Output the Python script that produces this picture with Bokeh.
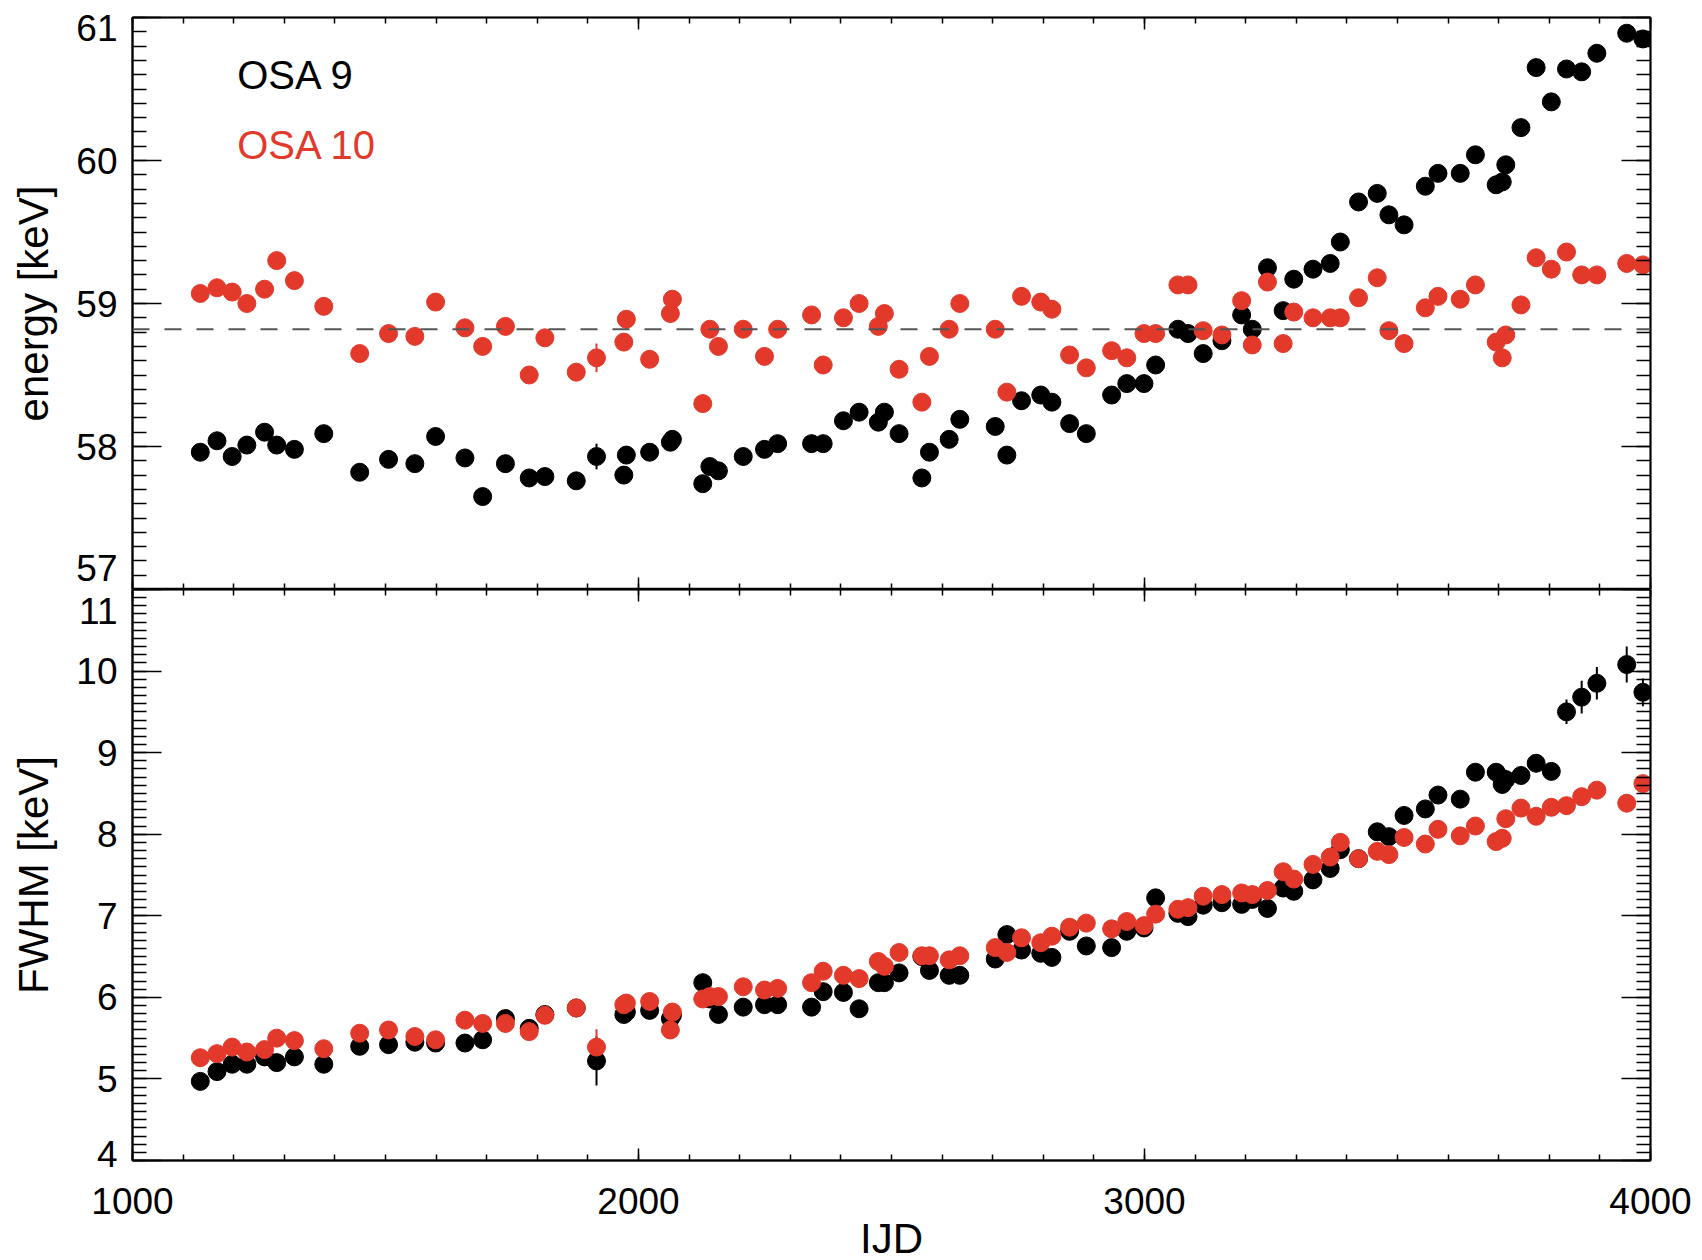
import numpy as np
from bokeh.plotting import figure
from bokeh.layouts import column
from bokeh.models import LinearAxis, FixedTicker, Range1d, Label, Span
from bokeh.embed import file_html
from bokeh.resources import INLINE

# ---------------- data ----------------
ijd = [1134, 1167, 1197, 1226, 1261, 1285, 1320, 1378, 1449, 1506,
       1558, 1599, 1657, 1692, 1737, 1784, 1815, 1877, 1917, 1971,
       1976, 2022, 2063, 2067, 2127, 2141, 2158, 2207, 2249, 2275,
       2342, 2365, 2405, 2436, 2474, 2486, 2515, 2560, 2575, 2614,
       2635, 2705, 2728, 2757, 2795, 2817, 2852, 2885, 2935, 2965,
       2999, 3022, 3066, 3086, 3116, 3153, 3192, 3213, 3243, 3274,
       3295, 3333, 3367, 3387, 3423, 3460, 3483, 3513, 3555, 3580,
       3624, 3654, 3695, 3707, 3714, 3744, 3774, 3804, 3834, 3864,
       3894, 3953, 3985]

energy_osa9 = [57.96, 58.04, 57.93, 58.01, 58.10, 58.01, 57.98, 58.09, 57.82, 57.91,
               57.88, 58.07, 57.92, 57.65, 57.88, 57.78, 57.79, 57.76, 57.93, 57.80,
               57.94, 57.96, 58.03, 58.05, 57.74, 57.86, 57.83, 57.93, 57.98, 58.02,
               58.02, 58.02, 58.18, 58.24, 58.17, 58.24, 58.09, 57.78, 57.96, 58.05,
               58.19, 58.14, 57.94, 58.32, 58.36, 58.31, 58.16, 58.09, 58.36, 58.44,
               58.44, 58.57, 58.82, 58.79, 58.65, 58.74, 58.92, 58.82, 59.25, 58.95,
               59.17, 59.24, 59.28, 59.43, 59.71, 59.77, 59.62, 59.55, 59.82, 59.91,
               59.91, 60.04, 59.83, 59.85, 59.97, 60.23, 60.65, 60.41, 60.64, 60.62,
               60.75, 60.89, 60.85]

energy_osa10 = [59.07, 59.11, 59.08, 59.00, 59.10, 59.30, 59.16, 58.98, 58.65, 58.79,
                58.77, 59.01, 58.83, 58.70, 58.84, 58.50, 58.76, 58.52, 58.62, 58.73,
                58.89, 58.61, 58.93, 59.03, 58.30, 58.82, 58.70, 58.82, 58.63, 58.82,
                58.92, 58.57, 58.90, 59.00, 58.84, 58.93, 58.54, 58.31, 58.63, 58.82,
                59.00, 58.82, 58.38, 59.05, 59.01, 58.96, 58.64, 58.55, 58.67, 58.62,
                58.79, 58.79, 59.13, 59.13, 58.81, 58.78, 59.02, 58.71, 59.15, 58.72,
                58.94, 58.90, 58.90, 58.90, 59.04, 59.18, 58.81, 58.72, 58.97, 59.05,
                59.03, 59.13, 58.73, 58.62, 58.78, 58.99, 59.32, 59.24, 59.36, 59.20,
                59.20, 59.28, 59.27]

fwhm_osa9 = [4.97, 5.09, 5.18, 5.18, 5.27, 5.20, 5.27, 5.18, 5.40, 5.42,
             5.45, 5.44, 5.44, 5.48, 5.74, 5.62, 5.79, 5.87, 5.22, 5.79,
             5.82, 5.84, 5.74, 5.78, 6.18, 5.98, 5.79, 5.88, 5.91, 5.91,
             5.88, 6.07, 6.06, 5.86, 6.18, 6.18, 6.30, 6.50, 6.33, 6.27,
             6.27, 6.47, 6.77, 6.58, 6.54, 6.49, 6.81, 6.63, 6.61, 6.81,
             6.85, 7.22, 7.03, 6.99, 7.13, 7.16, 7.14, 7.20, 7.09, 7.34,
             7.30, 7.44, 7.58, 7.81, 7.70, 8.03, 7.97, 8.23, 8.31, 8.48,
             8.43, 8.76, 8.76, 8.61, 8.67, 8.72, 8.87, 8.77, 9.50, 9.68,
             9.85, 10.08, 9.74]

fwhm_osa10 = [5.26, 5.31, 5.39, 5.33, 5.36, 5.50, 5.47, 5.37, 5.56, 5.60,
              5.52, 5.48, 5.72, 5.68, 5.68, 5.58, 5.78, 5.87, 5.39, 5.91,
              5.93, 5.95, 5.60, 5.82, 5.98, 6.01, 6.01, 6.13, 6.09, 6.11,
              6.18, 6.32, 6.27, 6.23, 6.44, 6.38, 6.55, 6.51, 6.51, 6.46,
              6.51, 6.61, 6.55, 6.73, 6.67, 6.75, 6.86, 6.91, 6.84, 6.93,
              6.88, 7.02, 7.08, 7.10, 7.24, 7.26, 7.28, 7.26, 7.31, 7.54,
              7.45, 7.63, 7.72, 7.90, 7.70, 7.79, 7.75, 7.96, 7.88, 8.06,
              7.98, 8.10, 7.91, 7.95, 8.19, 8.32, 8.22, 8.33, 8.35, 8.46,
              8.54, 8.38, 8.62]

# visible error bars (index into ijd, half-length)
energy9_err_idx = [18]
energy9_err = [0.09]
energy10_err_idx = [18]
energy10_err = [0.10]
fwhm9_err_idx = [18, 65, 74, 76, 78, 79, 80, 81, 82]
fwhm9_err = [0.30, 0.10, 0.12, 0.10, 0.15, 0.20, 0.20, 0.22, 0.17]
fwhm10_err_idx = [18, 22, 80]
fwhm10_err = [0.22, 0.10, 0.08]

energy_ref = 58.82          # dashed reference line
x_ticks = [1000, 2000, 3000, 4000]
energy_ticks = [57, 58, 59, 60, 61]
fwhm_ticks = [4, 5, 6, 7, 8, 9, 10, 11]
# tick-label texts and where they sit (the end labels are nudged inside the panel)
energy_labels = ["57", "58", "59", "60", "61"]
energy_label_pos = [57.15, 58, 59, 60, 60.927]
fwhm_labels = ["4", "5", "6", "7", "8", "9", "10", "11"]
fwhm_label_pos = [4.08, 5, 6, 7, 8, 9, 10, 10.74]
series_names = ["OSA 9", "OSA 10"]

# ---------------- style ----------------
FONT = "Liberation Sans"
RED = "#E2392B"
BLACK = "#000000"
TICK_FS = "37px"
TITLE_FS = "42px"
MSIZE = 18
FRAME_W = 1518
LEFT_B = 132
RIGHT_B = 52

x_range = Range1d(1000, 4000)
x_minor = list(np.arange(1000, 4001, 100))
e_minor = list(np.round(np.arange(57, 61.001, 0.1), 2))
f_minor = list(np.round(np.arange(4, 11.001, 0.1), 2))


def base_axis(ax):
    ax.axis_line_color = "black"
    ax.axis_line_width = 1.5
    ax.major_tick_line_color = "black"
    ax.major_tick_line_width = 1.5
    ax.minor_tick_line_color = "black"
    ax.minor_tick_line_width = 1.5
    ax.major_tick_out = 0
    ax.minor_tick_out = 0
    ax.axis_label_text_font_style = "normal"
    ax.axis_label_text_font = FONT
    ax.axis_label_text_font_size = TITLE_FS
    ax.axis_label_text_color = "black"
    ax.major_label_text_font = FONT
    ax.major_label_text_font_size = TICK_FS
    ax.major_label_text_color = "black"


def tick_only_axes(p, side, ticks, minor, major_in, minor_in):
    # tick marks without labels: one label-free axis for long and one for short ticks
    for pos, length in [(minor, minor_in), (ticks, major_in)]:
        ax = LinearAxis(ticker=FixedTicker(ticks=[], minor_ticks=pos))
        base_axis(ax)
        ax.major_tick_in = 0
        ax.minor_tick_in = length
        ax.major_label_standoff = 0
        p.add_layout(ax, side)


def label_axis(p, side, pos, texts, title, standoff, title_standoff):
    # labels only (tick marks come from tick_only_axes)
    ax = LinearAxis(ticker=FixedTicker(ticks=pos, minor_ticks=[]), axis_label=title)
    base_axis(ax)
    ax.major_tick_in = 0
    ax.minor_tick_in = 0
    ax.major_label_standoff = standoff
    ax.axis_label_standoff = title_standoff
    ax.major_label_overrides = {p_: t for p_, t in zip(pos, texts)}
    p.add_layout(ax, side)


def make_fig(y_lo, y_hi, frame_h, top_border, bottom_border):
    p = figure(frame_width=FRAME_W, frame_height=frame_h, x_range=x_range,
               y_range=Range1d(y_lo, y_hi), output_backend="svg",
               toolbar_location=None, min_border_left=LEFT_B, min_border_right=RIGHT_B,
               min_border_top=top_border, min_border_bottom=bottom_border,
               x_axis_location=None, y_axis_location=None)
    p.xgrid.visible = False
    p.ygrid.visible = False
    p.outline_line_color = "black"
    p.outline_line_width = 1.5
    p.background_fill_color = "white"
    p.border_fill_color = "white"
    return p


# ---------------- top panel: energy ----------------
p1 = make_fig(57, 61, 572, 17, 0)
tick_only_axes(p1, "left", energy_ticks, e_minor, 29, 14)
label_axis(p1, "left", energy_label_pos, energy_labels, "energy [keV]", 15, 16)
tick_only_axes(p1, "right", energy_ticks, e_minor, 29, 14)
tick_only_axes(p1, "above", x_ticks, x_minor, 12, 6)
tick_only_axes(p1, "below", x_ticks, x_minor, 12, 6)

p1.add_layout(Span(location=energy_ref, dimension="width", line_color="#555555",
                   line_width=2, line_dash="17 15"))

for idx, err, yv, col in [(energy9_err_idx, energy9_err, energy_osa9, BLACK),
                          (energy10_err_idx, energy10_err, energy_osa10, RED)]:
    xs = [ijd[i] for i in idx]
    p1.segment(x0=xs, x1=xs, y0=[yv[i] - e for i, e in zip(idx, err)],
               y1=[yv[i] + e for i, e in zip(idx, err)], line_color=col, line_width=2)

p1.scatter(ijd, energy_osa9, size=MSIZE, marker="circle", fill_color=BLACK, line_color=BLACK)
p1.scatter(ijd, energy_osa10, size=MSIZE, marker="circle", fill_color=RED, line_color=RED)

p1.add_layout(Label(x=1207, y=60.60, text=series_names[0], text_baseline="middle",
                    text_font=FONT, text_font_size="40px", text_color=BLACK))
p1.add_layout(Label(x=1207, y=60.11, text=series_names[1], text_baseline="middle",
                    text_font=FONT, text_font_size="40px", text_color=RED))

# ---------------- bottom panel: FWHM ----------------
p2 = make_fig(4, 11, 571, 0, 0)
tick_only_axes(p2, "left", fwhm_ticks, f_minor, 29, 14)
label_axis(p2, "left", fwhm_label_pos, fwhm_labels, "FWHM [keV]", 15, 16)
tick_only_axes(p2, "right", fwhm_ticks, f_minor, 29, 14)
tick_only_axes(p2, "above", x_ticks, x_minor, 12, 6)
tick_only_axes(p2, "below", x_ticks, x_minor, 12, 6)
label_axis(p2, "below", x_ticks, [str(t) for t in x_ticks], "IJD", 27, -2)

for idx, err, yv, col in [(fwhm9_err_idx, fwhm9_err, fwhm_osa9, BLACK),
                          (fwhm10_err_idx, fwhm10_err, fwhm_osa10, RED)]:
    xs = [ijd[i] for i in idx]
    p2.segment(x0=xs, x1=xs, y0=[yv[i] - e for i, e in zip(idx, err)],
               y1=[yv[i] + e for i, e in zip(idx, err)], line_color=col, line_width=2)

p2.scatter(ijd, fwhm_osa9, size=MSIZE, marker="circle", fill_color=BLACK, line_color=BLACK)
p2.scatter(ijd, fwhm_osa10, size=MSIZE, marker="circle", fill_color=RED, line_color=RED)

layout = column(p1, p2, spacing=0)
open("out.html", "w").write(file_html(layout, INLINE))
